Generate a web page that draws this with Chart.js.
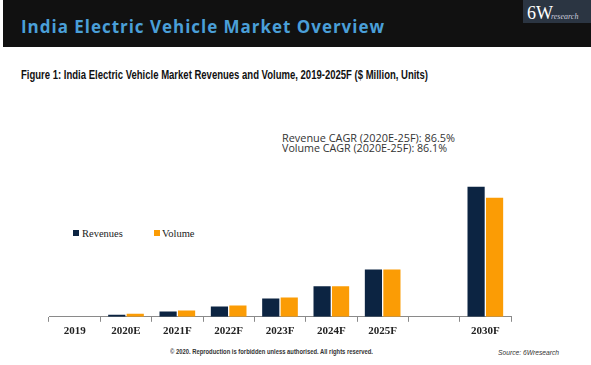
<!DOCTYPE html>
<html>
<head>
<meta charset="utf-8">
<script src="https://cdn.jsdelivr.net/npm/chart.js@4"></script>
<style>
  html, body { margin: 0; padding: 0; background: #fff; }
  #page { position: relative; width: 591px; height: 365px; overflow: hidden; }
  #banner { position: absolute; left: 3px; top: 0; width: 588px; height: 47px; background: #111111; }
  .txt { position: absolute; white-space: nowrap; transform-origin: 0 0; line-height: 1; }
  #title { left: 21px; top: 15px; font: bold 17px "Open Sans", sans-serif; color: #4a9fd8; }
  #logo { position: absolute; left: 523px; top: 0; width: 68px; height: 23px; background: #2b3542; }
  #logo6w { left: 527px; top: 3px; font: 18px "Liberation Serif", serif; color: #fff; }
  #logoR { left: 551px; top: 12px; font: italic 8px "Liberation Serif", serif; color: #ccd; }
  #fig { left: 21px; top: 67px; font: bold 13.5px "Liberation Sans Narrow", "Liberation Sans", sans-serif; color: #111; }
  .cagr { left: 282px; font: 10px "Open Sans", sans-serif; color: #333; }
  #legend .sw { position: absolute; width: 6px; height: 6px; }
  .leg { font: 10.5px "Liberation Serif", serif; color: #222; }
  #copy { left: 170px; top: 348px; font: bold 6.5px "Liberation Sans", sans-serif; color: #333; }
  #src { left: 498px; top: 348px; font: italic 7.5px "Liberation Sans", sans-serif; color: #333; }
  canvas { position: absolute; left: 0; top: 0; }
</style>
</head>
<body>
<div id="page">
  <div id="banner"></div>
  <div class="txt" id="title" data-w="363">India Electric Vehicle Market Overview</div>
  <div id="logo"></div>
  <div class="txt" id="logo6w">6W</div>
  <div class="txt" id="logoR">research</div>
  <div class="txt" id="fig" data-w="407">Figure 1: India Electric Vehicle Market Revenues and Volume, 2019-2025F ($ Million, Units)</div>
  <div class="txt cagr" style="top:131px" data-w="173">Revenue CAGR (2020E-25F): 86.5%</div>
  <div class="txt cagr" style="top:140.5px" data-w="165">Volume CAGR (2020E-25F): 86.1%</div>
  <div id="legend"></div>
  <div class="txt" id="copy" data-w="203">© 2020. Reproduction is forbidden unless authorised. All rights reserved.</div>
  <div class="txt" id="src" data-w="61">Source: 6Wresearch</div>
  <canvas id="chart" width="591" height="365"></canvas>
</div>
<script>
// Data
const years = ['2019', '2020E', '2021F', '2022F', '2023F', '2024F', '2025F', '', '2030F'];
const seriesNames = ['Revenues', 'Volume'];
const revenues = [0, 2, 5.3, 10.3, 18.3, 30.3, 47, null, 129.3];
const volume = [0, 3, 6.3, 11.3, 19.3, 30.3, 47, null, 118.3];
const colors = ['#0c2442', '#fb9c05'];

// squeeze / stretch texts to their measured widths
document.querySelectorAll('[data-w]').forEach(el => {
    const w = el.getBoundingClientRect().width;
    el.style.transform = 'scaleX(' + (parseFloat(el.dataset.w) / w) + ')';
});
// title has wide letter spacing instead
const title = document.getElementById('title');
title.style.transform = '';
const n = title.textContent.length;
const natural = title.getBoundingClientRect().width;
title.style.letterSpacing = ((363 - natural) / (n - 1)) + 'px';

// Legend
const legend = document.getElementById('legend');
const legPos = [[73, 82], [154, 162]];
seriesNames.forEach((name, i) => {
    let sw = document.createElement('div');
    sw.className = 'sw';
    sw.style.left = legPos[i][0] + 'px';
    sw.style.top = '230px';
    sw.style.background = colors[i];
    legend.appendChild(sw);
    let t = document.createElement('div');
    t.className = 'txt leg';
    t.style.left = legPos[i][1] + 'px';
    t.style.top = '228px';
    t.textContent = name;
    legend.appendChild(t);
});

const ctx = document.getElementById('chart');

let evChart = new Chart(ctx, {
    type: 'bar',
    data: {
        labels: years,
        datasets: [{
            label: seriesNames[0],
            data: revenues,
            backgroundColor: colors[0],
            categoryPercentage: 0.72,
            barPercentage: 0.93
        }, {
            label: seriesNames[1],
            data: volume,
            backgroundColor: colors[1],
            categoryPercentage: 0.72,
            barPercentage: 0.93
        }]
    },
    options: {
        responsive: false,
        devicePixelRatio: 1,
        animation: false,
        layout: {
            padding: { left: 49, right: 80, top: 169, bottom: 24 }
        },
        plugins: {
            legend: { display: false },
            tooltip: { enabled: false }
        },
        scales: {
            y: { display: false, min: 0, max: 147 },
            x: {
                border: { display: true, color: '#8a8a8a', width: 1 },
                grid: {
                    display: true,
                    drawOnChartArea: false,
                    drawTicks: true,
                    tickLength: 5,
                    color: '#8a8a8a'
                },
                ticks: {
                    padding: 3,
                    color: '#222',
                    font: { family: 'Liberation Serif', size: 11, weight: 'bold' }
                }
            }
        }
    }
});
</script>
</body>
</html>
